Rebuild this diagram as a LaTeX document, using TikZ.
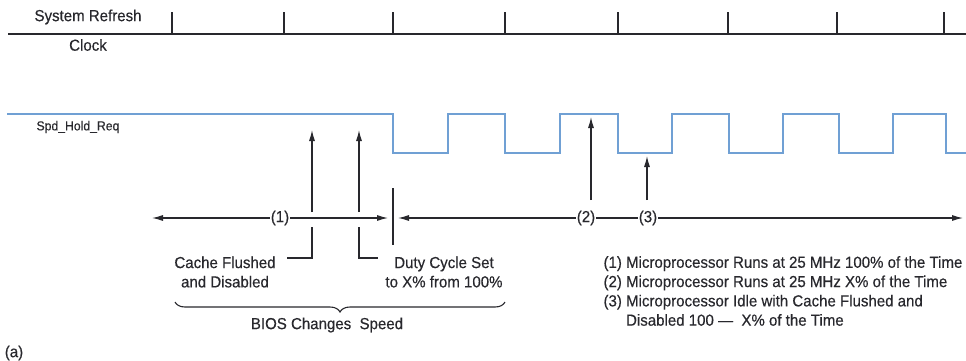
\documentclass[tikz,border=0pt]{standalone}
\usepackage{fontspec}
\setmainfont{Liberation Sans}[FakeStretch=0.94,FakeBold=0.4]
\usepackage{xcolor}
\definecolor{SignalBlue}{RGB}{112,160,212}
\definecolor{InkGray}{RGB}{40,40,45}
\usetikzlibrary{arrows.meta,decorations.pathreplacing}

\begin{document}
\begin{tikzpicture}[x=1pt,y=-1pt,font=\fontsize{16}{19.3}\selectfont,InkGray,
    sig/.style={SignalBlue,line width=1.2pt},
    ink/.style={InkGray,line width=1.1pt},
    pointer/.style={ink,-{Latex[length=11pt,width=6pt]}},
    tag/.style={inner sep=1pt}]
  \useasboundingbox (0,0) rectangle (966,360);
  % clock
  \draw[ink] (8,34) -- (966,34);
  \foreach \x in {172,284,393,505,618,728,837,944}
    \draw[ink] (\x,12) -- (\x,34);
  \node[anchor=west] (sysref) at (31,17) {System Refresh};
  \node (clock) at (88,45) {Clock};
  % Spd_Hold_Req
  \draw[sig] (7,114) -- (393,114) -- (393,153) -- (448,153) -- (448,114)
    -- (505,114) -- (505,153) -- (560,153) -- (560,114) -- (618,114)
    -- (618,153) -- (672,153) -- (672,114) -- (729,114) -- (729,153)
    -- (783,153) -- (783,114) -- (839,114) -- (839,153) -- (893,153)
    -- (893,114) -- (946,114) -- (946,153) -- (966,153);
  \node[anchor=west,font=\fontsize{13}{15}\selectfont] (holdreq) at (33,127) {Spd\_Hold\_Req};
  % time line
  \node[tag] (one) at (280,218) {(1)};
  \node[tag] (two) at (586,218) {(2)};
  \node[tag] (three) at (648,218) {(3)};
  \coordinate (startL) at (152,218);
  \coordinate (splitL) at (388,218);
  \coordinate (splitR) at (398,218);
  \coordinate (endR) at (963,218);
  \coordinate (barTop) at (393,188);
  \coordinate (barBot) at (393,245);
  \draw[pointer] (one) -- (startL);
  \draw[pointer] (one) -- (splitL);
  \draw[ink] (barTop) -- (barBot);
  \draw[pointer] (two) -- (splitR);
  \draw[ink] (two) -- (three);
  \draw[pointer] (three) -- (endR);
  % pointers to the signal
  \coordinate (flushTip) at (312,130);
  \coordinate (flushLow) at (312,212);
  \coordinate (dutyTip) at (359,130);
  \coordinate (dutyLow) at (359,212);
  \coordinate (runTip) at (591,117);
  \coordinate (runLow) at (591,200);
  \coordinate (idleTip) at (647,156);
  \coordinate (idleLow) at (647,200);
  \draw[pointer] (flushLow) -- (flushTip);
  \draw[pointer] (dutyLow) -- (dutyTip);
  \draw[pointer] (runLow) -- (runTip);
  \draw[pointer] (idleLow) -- (idleTip);
  \node[align=center] (cache) at (225,272) {Cache Flushed\\and Disabled};
  \node[align=center] (duty) at (444,272) {Duty Cycle Set\\to X\% from 100\%};
  \draw[ink] (312,227) -- (312,258) -- (287,258);
  \draw[ink] (359,227) -- (359,258) -- (378,258);
  \draw[ink,decorate,decoration={brace,mirror,amplitude=10pt}] (175,302) -- (505,302);
  \node (bios) at (327,325) {BIOS Changes~ Speed};
  \node (fig) at (14,353) {(a)};
  % legend
  \node[anchor=west,align=left] (legend) at (600,291) {(1) Microprocessor Runs at 25 MHz 100\% of the Time\\
    (2) Microprocessor Runs at 25 MHz X\% of the Time\\
    (3) Microprocessor Idle with Cache Flushed and\\
    \hphantom{(3) }Disabled 100 \textemdash\ \ X\% of the Time};
\end{tikzpicture}
\end{document}
